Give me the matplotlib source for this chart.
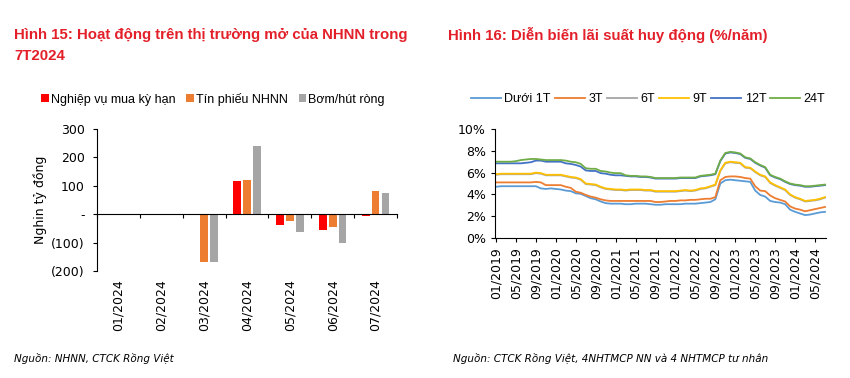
import numpy as np
import matplotlib.pyplot as plt

plt.rcParams['font.family'] = ['DejaVu Sans']

# ---- Hình 15 data (nghìn tỷ đồng)
months_15 = ['01/2024', '02/2024', '03/2024', '04/2024', '05/2024', '06/2024', '07/2024']
mua_ky_han = [-3, 0, 0, 118, -37, -55, -5]
tin_phieu = [0, 0, -170, 121, -25, -45, 83]
bom_hut = [-2, 0, -170, 239, -62, -100, 76]

# ---- Hình 16 data (%/năm), monthly 01/2019 .. 07/2024
duoi_1t = [4.70, 4.75, 4.75, 4.75, 4.75, 4.75, 4.75, 4.75, 4.75, 4.55, 4.50, 4.55,
           4.50, 4.45, 4.35, 4.30, 4.10, 4.05, 3.85, 3.65, 3.55, 3.35, 3.20, 3.15,
           3.15, 3.15, 3.10, 3.10, 3.15, 3.15, 3.15, 3.10, 3.05, 3.05, 3.10, 3.10,
           3.10, 3.10, 3.15, 3.15, 3.15, 3.20, 3.25, 3.30, 3.55, 5.00, 5.30, 5.35,
           5.30, 5.25, 5.20, 5.15, 4.35, 3.95, 3.80, 3.40, 3.30, 3.25, 3.10, 2.60,
           2.40, 2.25, 2.10, 2.15, 2.25, 2.35, 2.40]
t3 = [5.10, 5.10, 5.10, 5.10, 5.10, 5.10, 5.10, 5.10, 5.15, 5.10, 4.85, 4.85,
      4.85, 4.85, 4.70, 4.60, 4.25, 4.15, 3.95, 3.80, 3.70, 3.55, 3.45, 3.40,
      3.40, 3.40, 3.40, 3.40, 3.40, 3.40, 3.40, 3.40, 3.30, 3.30, 3.35, 3.40,
      3.40, 3.45, 3.45, 3.50, 3.50, 3.55, 3.60, 3.60, 3.75, 5.30, 5.60, 5.65,
      5.65, 5.60, 5.50, 5.45, 4.75, 4.35, 4.30, 3.90, 3.65, 3.50, 3.35, 2.90,
      2.70, 2.60, 2.45, 2.55, 2.65, 2.75, 2.85]
t6 = [5.80, 5.85, 5.85, 5.85, 5.85, 5.85, 5.85, 5.85, 5.95, 5.90, 5.75, 5.75,
      5.75, 5.75, 5.65, 5.55, 5.50, 5.35, 4.95, 4.90, 4.85, 4.65, 4.50, 4.45,
      4.40, 4.40, 4.35, 4.40, 4.40, 4.40, 4.35, 4.35, 4.25, 4.25, 4.25, 4.25,
      4.25, 4.30, 4.35, 4.30, 4.35, 4.50, 4.55, 4.70, 4.85, 6.15, 6.85, 6.95,
      6.90, 6.85, 6.45, 6.40, 6.05, 5.75, 5.60, 5.05, 4.80, 4.60, 4.40, 3.95,
      3.70, 3.55, 3.35, 3.40, 3.45, 3.55, 3.70]
t9 = [5.85, 5.90, 5.90, 5.90, 5.90, 5.90, 5.90, 5.90, 6.00, 5.95, 5.80, 5.80,
      5.80, 5.80, 5.70, 5.60, 5.55, 5.40, 5.00, 4.95, 4.90, 4.70, 4.55, 4.50,
      4.45, 4.45, 4.40, 4.45, 4.45, 4.45, 4.40, 4.40, 4.30, 4.30, 4.30, 4.30,
      4.30, 4.35, 4.40, 4.35, 4.40, 4.55, 4.60, 4.75, 4.90, 6.20, 6.90, 7.00,
      6.95, 6.90, 6.50, 6.45, 6.10, 5.80, 5.65, 5.10, 4.85, 4.65, 4.45, 4.00,
      3.75, 3.60, 3.40, 3.45, 3.50, 3.60, 3.75]
t12 = [6.85, 6.85, 6.85, 6.85, 6.85, 6.85, 6.90, 6.95, 7.10, 7.10, 7.00, 7.00,
       7.00, 7.00, 6.85, 6.80, 6.70, 6.55, 6.20, 6.15, 6.15, 5.95, 5.90, 5.80,
       5.75, 5.75, 5.70, 5.65, 5.65, 5.60, 5.60, 5.55, 5.45, 5.45, 5.45, 5.45,
       5.45, 5.50, 5.50, 5.50, 5.50, 5.65, 5.70, 5.75, 5.85, 7.05, 7.75, 7.85,
       7.80, 7.70, 7.35, 7.25, 6.90, 6.65, 6.45, 5.75, 5.55, 5.40, 5.15, 4.95,
       4.85, 4.80, 4.70, 4.70, 4.75, 4.80, 4.85]
t24 = [7.00, 7.00, 7.00, 7.00, 7.05, 7.15, 7.20, 7.25, 7.25, 7.20, 7.15, 7.15,
       7.15, 7.15, 7.10, 7.00, 6.95, 6.80, 6.40, 6.35, 6.35, 6.15, 6.10, 6.00,
       5.95, 5.95, 5.75, 5.70, 5.70, 5.65, 5.65, 5.60, 5.50, 5.50, 5.50, 5.50,
       5.50, 5.55, 5.55, 5.55, 5.55, 5.70, 5.75, 5.80, 5.90, 7.10, 7.80, 7.90,
       7.85, 7.75, 7.40, 7.30, 6.95, 6.70, 6.50, 5.80, 5.60, 5.45, 5.20, 5.00,
       4.90, 4.85, 4.75, 4.75, 4.80, 4.85, 4.90]
month_labels_16 = ['%02d/%d' % (m, y) for y in range(2019, 2025) for m in range(1, 13)][:67]

RED = '#e3202a'
TITLE_FONT = ['Liberation Sans', 'DejaVu Sans']
LEG_FONT = ['Liberation Sans', 'DejaVu Sans']
fig = plt.figure(figsize=(8.5, 3.78), dpi=100)

# ---------------- left chart
title_kw = dict(color=RED, fontsize=10.8, fontweight='bold', style='normal',
                va='center', family=TITLE_FONT)
fig.text(14/850, 1-35/378, 'Hình 15: Hoạt động trên thị trường mở của NHNN trong', **title_kw)
fig.text(14/850, 1-56/378, '7T2024', **title_kw)

ax = fig.add_axes([97/850, 1-271/378, 300/850, 142/378])
x = np.arange(len(months_15))
w, off = 0.18, 0.23
ax.bar(x - off, mua_ky_han, w, color='#ff0000', label='Nghiệp vụ mua kỳ hạn')
ax.bar(x, tin_phieu, w, color='#ed7d31', label='Tín phiếu NHNN')
ax.bar(x + off, bom_hut, w, color='#a5a5a5', label='Bơm/hút ròng')
ax.set_xlim(-0.5, len(months_15) - 0.5)
ax.set_ylim(-200, 300)
ax.set_yticks([-200, -100, 0, 100, 200, 300])
ax.set_yticklabels(['(200)', '(100)', '-', '100', '200', '300'], fontsize=9)
ax.spines['top'].set_visible(False)
ax.spines['right'].set_visible(False)
ax.spines['bottom'].set_position(('data', 0))
ax.set_xticks(np.arange(len(months_15) + 1) - 0.5)
ax.set_xticklabels([])
ax.tick_params(axis='x', direction='out', length=3)
ax.tick_params(axis='y', direction='out', length=3, pad=6)
for i, lab in enumerate(months_15):
    ax.text(i, -0.06, lab, transform=ax.get_xaxis_transform(), rotation=90,
            ha='center', va='top', fontsize=9)
ax.set_ylabel('Nghin tỷ đồng', fontsize=9, labelpad=3)
ax.legend(loc='center', bbox_to_anchor=(213/850, 1-99/378), bbox_transform=fig.transFigure,
          ncol=3, frameon=False, prop={'family': LEG_FONT, 'size': 9},
          handlelength=0.6, handleheight=0.6, handletextpad=0.15, columnspacing=0.9)

# ---------------- right chart
fig.text(448/850, 1-35/378, 'Hình 16: Diễn biến lãi suất huy động (%/năm)', **title_kw)
ax2 = fig.add_axes([495/850, 1-238/378, 331/850, 109/378])
t = np.arange(len(t24))
series = [(duoi_1t, 'Dưới 1T', '#5b9bd5'), (t3, '3T', '#ed7d31'), (t6, '6T', '#a5a5a5'),
          (t9, '9T', '#ffc000'), (t12, '12T', '#4472c4'), (t24, '24T', '#70ad47')]
for vals, name, col in series:
    ax2.plot(t, vals, color=col, lw=1.3, label=name)
ax2.set_xlim(-0.2, len(t24) - 0.8)
ax2.set_ylim(0, 10)
ax2.set_yticks([0, 2, 4, 6, 8, 10])
ax2.set_yticklabels(['%d%%' % v for v in [0, 2, 4, 6, 8, 10]], fontsize=9)
ax2.set_xticks(t[::4])
ax2.set_xticklabels(month_labels_16[::4], rotation=90, fontsize=9)
ax2.spines['top'].set_visible(False)
ax2.spines['right'].set_visible(False)
ax2.tick_params(direction='out', length=3)
ax2.legend(loc='center', bbox_to_anchor=(648/850, 1-99/378), bbox_transform=fig.transFigure,
           ncol=6, frameon=False, prop={'family': LEG_FONT, 'size': 9},
           handlelength=2.4, handletextpad=0.3, columnspacing=0.3)

# ---------------- sources
fig.text(14/850, 1-358/378, 'Nguồn: NHNN, CTCK Rồng Việt', fontsize=7.5, style='italic', va='center')
fig.text(453/850, 1-358/378, 'Nguồn: CTCK Rồng Việt, 4NHTMCP NN và 4 NHTMCP tư nhân',
         fontsize=7.5, style='italic', va='center')

fig.savefig('out.png', dpi=100)
